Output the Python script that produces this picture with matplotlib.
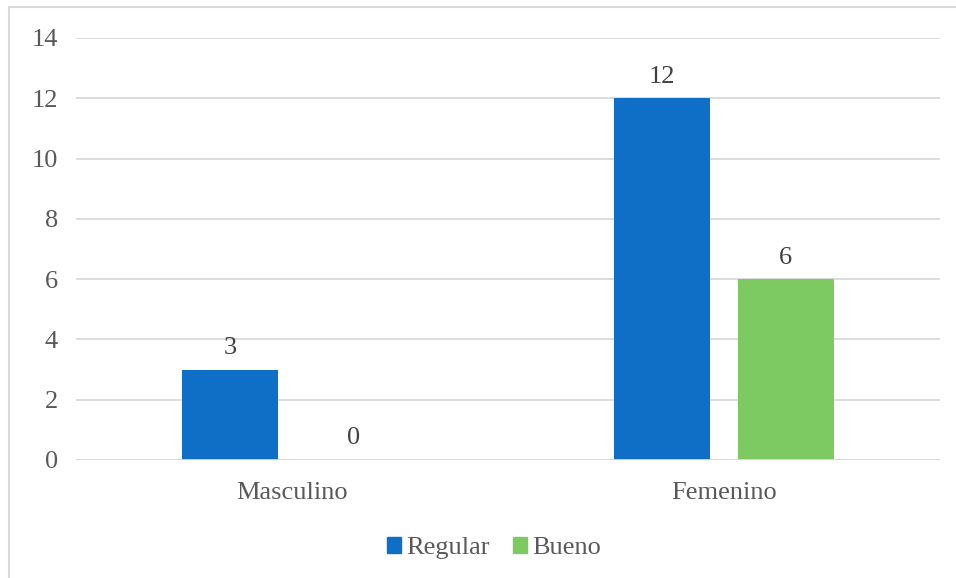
import numpy as np
import matplotlib
matplotlib.use("Agg")
import matplotlib.pyplot as plt
from matplotlib.patches import Rectangle, Patch

categories = ['Masculino', 'Femenino']
series_names = ['Regular', 'Bueno']
regular = [3, 12]
bueno = [0, 6]
colors = ['#0F6FC6', '#7DCA63']

plt.rcParams['font.family'] = ['Liberation Serif', 'DejaVu Serif']
txt = '#595959'
fs = 19

fig = plt.figure(figsize=(9.56, 5.78), dpi=100)
ax = fig.add_axes([76/956, 1-460/578, (940-76)/956, (460-38)/578])

x = np.arange(len(categories))
w = 0.222
off = 0.143
b1 = ax.bar(x - off, regular, w, color=colors[0], zorder=3)
b2 = ax.bar(x + off, bueno, w, color=colors[1], zorder=3)
for bars, vals in ((b1, regular), (b2, bueno)):
    for r, v in zip(bars, vals):
        ax.text(r.get_x() + r.get_width()/2, v + 0.35, str(v), ha='center', va='bottom',
                fontsize=fs, color='#404040')

ax.set_xlim(-0.5, 1.5)
ax.set_ylim(0, 14)
ax.set_yticks(range(0, 15, 2))
ax.set_xticks(x)
ax.set_xticklabels(categories)
ax.tick_params(axis='both', length=0, labelsize=fs, colors=txt)
ax.tick_params(axis='y', pad=13)
ax.tick_params(axis='x', pad=16)
ax.grid(axis='y', color='#D9D9D9', linewidth=1.3, zorder=0)
for s in ax.spines.values():
    s.set_visible(False)
ax.axhline(0, color='#D9D9D9', linewidth=1.3, zorder=4)

handles = [Patch(color=c, label=n) for c, n in zip(colors, series_names)]
fig.legend(handles=handles, loc='center', bbox_to_anchor=(494/956, 1-548/578), ncol=2,
           frameon=False, fontsize=fs, labelcolor=txt, handlelength=0.55, handleheight=0.55,
           handletextpad=0.2, columnspacing=0.85)

# outer chart frame
fig.patches.append(Rectangle((9/956, -0.05), 1.2, 1-7/578+0.05, transform=fig.transFigure,
                             fill=False, edgecolor='#D9D9D9', linewidth=1.5))

fig.savefig('out.png', dpi=100)
